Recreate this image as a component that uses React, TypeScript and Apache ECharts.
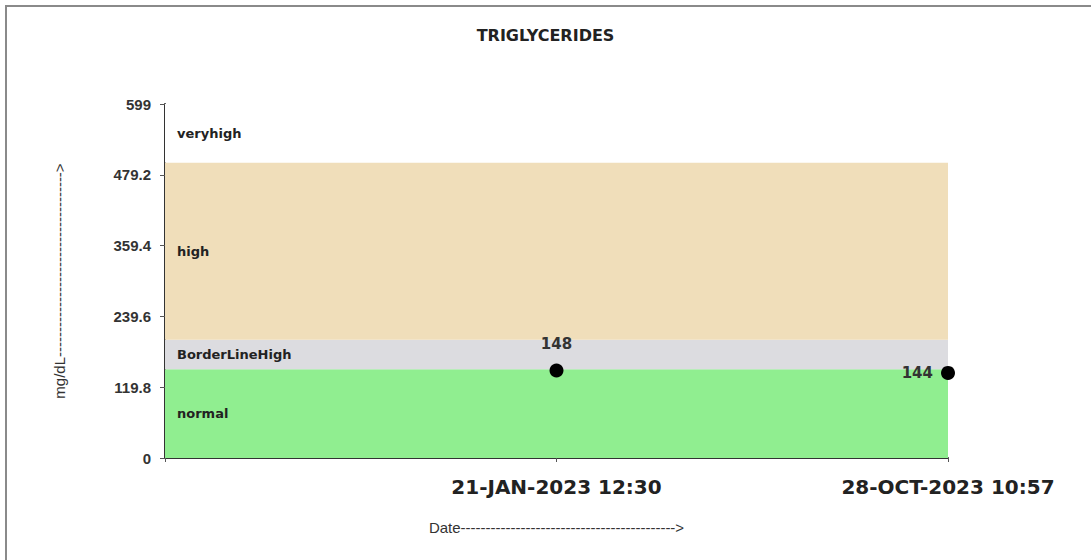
import React, { useEffect, useRef } from "react";
import * as echarts from "echarts";

const title = "TRIGLYCERIDES";
const categories = ["", "21-JAN-2023 12:30", "28-OCT-2023 10:57"];
const values: (number | null)[] = [null, 148, 144];
const yMin = 0;
const yMax = 599;
const yInterval = 119.8;
const bands = [
  { name: "normal", from: 0, to: 150, color: "#90EE90" },
  { name: "BorderLineHigh", from: 150, to: 200, color: "#DCDCE0" },
  { name: "high", from: 200, to: 500, color: "#F0DEBA" },
  { name: "veryhigh", from: 500, to: 599, color: "#FFFFFF" },
];
const yName = "mg/dL------------------------------------->";
const xName = "Date------------------------------------------->";

export default function App() {
  const ref = useRef<HTMLDivElement>(null);
  useEffect(() => {
    document.body.style.margin = "0";
    const chart = echarts.init(ref.current!, null, { renderer: "svg" });
    chart.setOption({
      animation: false,
      backgroundColor: "#ffffff",
      title: {
        text: title,
        left: "center",
        top: 22,
        textStyle: { fontFamily: "DejaVu Sans", fontSize: 16, fontWeight: "bold", color: "#222" },
      },
      graphic: [
        { type: "line", shape: { x1: 5, y1: 6, x2: 1091, y2: 6 }, style: { stroke: "#8a8a8a", lineWidth: 2 } },
        { type: "line", shape: { x1: 6, y1: 5, x2: 6, y2: 560 }, style: { stroke: "#8a8a8a", lineWidth: 2 } },
      ],
      grid: { left: 165, right: 143, top: 104, bottom: 102 },
      xAxis: {
        type: "category",
        data: categories,
        boundaryGap: false,
        name: xName,
        nameLocation: "middle",
        nameGap: 62,
        nameTextStyle: { fontFamily: "Liberation Sans", fontSize: 15, color: "#333" },
        axisLine: { lineStyle: { color: "#333", width: 2 } },
        axisTick: { show: true, length: 4, lineStyle: { color: "#555" } },
        axisLabel: {
          fontFamily: "DejaVu Sans",
          fontWeight: "bold",
          fontSize: 20,
          color: "#222",
          margin: 19,
        },
        splitLine: { show: false },
      },
      yAxis: {
        type: "value",
        min: yMin,
        max: yMax,
        interval: yInterval,
        name: yName,
        nameLocation: "middle",
        nameGap: 98,
        nameRotate: 90,
        nameTextStyle: { fontFamily: "Liberation Sans", fontSize: 15, color: "#333" },
        axisLine: { show: true, lineStyle: { color: "#333", width: 2 } },
        axisTick: { show: true, length: 5, lineStyle: { color: "#555" } },
        axisLabel: {
          fontFamily: "Liberation Sans",
          fontWeight: "bold",
          fontSize: 15,
          color: "#333",
          margin: 14,
          formatter: (v: number) => String(Math.round(v * 10) / 10),
        },
        splitLine: { show: false },
      },
      series: [
        {
          type: "scatter",
          data: values.map((v, i) =>
            v == null
              ? null
              : {
                  value: v,
                  label: {
                    show: true,
                    position: i === values.length - 1 ? "left" : "top",
                    distance: i === values.length - 1 ? 8 : 12,
                  },
                }
          ),
          symbol: "circle",
          symbolSize: 14,
          itemStyle: { color: "#000", opacity: 1 },
          label: {
            show: true,
            fontFamily: "DejaVu Sans",
            fontWeight: "bold",
            fontSize: 15,
            color: "#333",
          },
          z: 5,
          markArea: {
            silent: true,
            label: {
              position: "insideLeft",
              distance: 12,
              fontFamily: "DejaVu Sans",
              fontWeight: "bold",
              fontSize: 13,
              color: "#222",
            },
            data: bands.map((b) => [
              { name: b.name, yAxis: b.from, itemStyle: { color: b.color, opacity: 1 } },
              { yAxis: b.to },
            ]),
          },
        },
      ],
    });
    return () => chart.dispose();
  }, []);
  return <div ref={ref} style={{ width: 1091, height: 560 }} />;
}
